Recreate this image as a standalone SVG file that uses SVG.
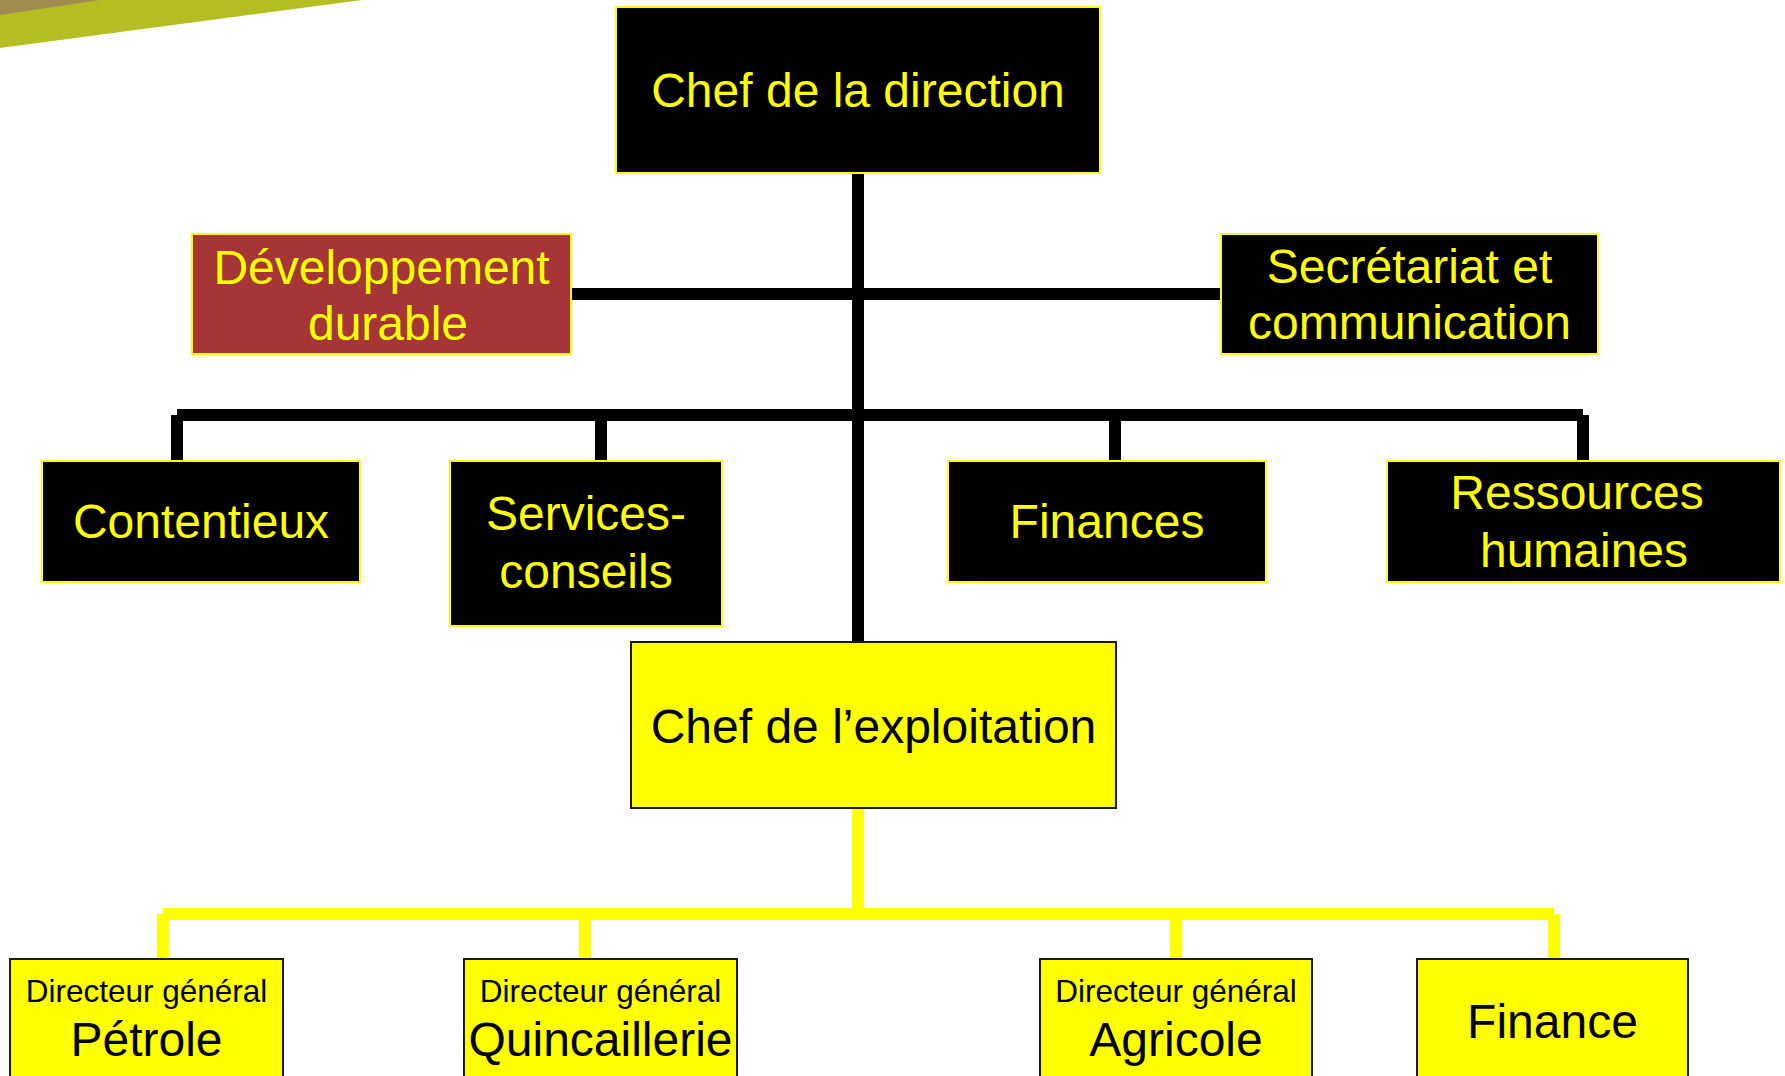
<svg xmlns="http://www.w3.org/2000/svg" width="1785" height="1076" viewBox="0 0 1785 1076">
<style>
  text { font-family: "Liberation Sans", Arial, sans-serif; text-anchor: middle; }
  .dark { fill: #000000; stroke: #FFFF00; stroke-width: 2; }
  .red { fill: #A53536; stroke: #FFFF00; stroke-width: 2; }
  .yel { fill: #FFFF00; stroke: #1a1a1a; stroke-width: 2; }
  .ty { fill: #FFFF00; font-size: 48px; }
  .tb { fill: #000000; font-size: 48px; }
  .ts { fill: #000000; font-size: 31.5px; }
  .cb { fill: none; stroke: #000000; stroke-width: 12; }
  .cy { fill: none; stroke: #FFFF00; stroke-width: 12; }
</style>
<rect x="0" y="0" width="1785" height="1076" fill="#FFFFFF"/>
<g id="decor">
  <polygon points="0,0 362,0 0,48" fill="#B4BE23"/>
  <polygon points="0,0 100,0 0,15" fill="#A08C4E"/>
</g>
<g id="connectors">
  <path class="cb" d="M858,173 V642"/>
  <path class="cb" d="M571,294 H1221"/>
  <path class="cb" d="M177,415 H1583"/>
  <path class="cb" d="M177,415 V461"/>
  <path class="cb" d="M1583,415 V461"/>
  <path class="cb" d="M601,415 V461"/>
  <path class="cb" d="M1115,415 V461"/>
  <path class="cy" d="M858,808 V914"/>
  <path class="cy" d="M163,914 H1554"/>
  <path class="cy" d="M163,914 V959"/>
  <path class="cy" d="M1554,914 V959"/>
  <path class="cy" d="M585,914 V959"/>
  <path class="cy" d="M1176,914 V959"/>
</g>
<g id="chef-direction">
  <rect class="dark" x="616" y="7" width="484" height="166"/>
  <text class="ty" x="858" y="107">Chef de la direction</text>
</g>
<g id="developpement-durable">
  <rect class="red" x="192" y="234" width="379" height="120"/>
  <text class="ty" x="381.5" y="284">Développement</text>
  <text class="ty" x="388" y="340">durable</text>
</g>
<g id="secretariat">
  <rect class="dark" x="1221" y="234" width="377" height="120"/>
  <text class="ty" x="1409.5" y="283">Secrétariat et</text>
  <text class="ty" x="1409.5" y="339">communication</text>
</g>
<g id="contentieux">
  <rect class="dark" x="42" y="461" width="318" height="121"/>
  <text class="ty" x="201" y="538">Contentieux</text>
</g>
<g id="services-conseils">
  <rect class="dark" x="450" y="461" width="272" height="165"/>
  <text class="ty" x="586" y="530">Services-</text>
  <text class="ty" x="586" y="588">conseils</text>
</g>
<g id="finances">
  <rect class="dark" x="948" y="461" width="318" height="121"/>
  <text class="ty" x="1107" y="538">Finances</text>
</g>
<g id="ressources-humaines">
  <rect class="dark" x="1387" y="461" width="393" height="121"/>
  <text class="ty" x="1577" y="509">Ressources</text>
  <text class="ty" x="1584" y="567">humaines</text>
</g>
<g id="chef-exploitation">
  <rect class="yel" x="631" y="642" width="485" height="166"/>
  <text class="tb" x="873.5" y="743">Chef de l’exploitation</text>
</g>
<g id="dg-petrole">
  <rect class="yel" x="10" y="959" width="273" height="140"/>
  <text class="ts" x="146.5" y="1002">Directeur général</text>
  <text class="tb" x="146.5" y="1056">Pétrole</text>
</g>
<g id="dg-quincaillerie">
  <rect class="yel" x="464" y="959" width="273" height="140"/>
  <text class="ts" x="600.5" y="1002">Directeur général</text>
  <text class="tb" x="600.5" y="1056">Quincaillerie</text>
</g>
<g id="dg-agricole">
  <rect class="yel" x="1040" y="959" width="272" height="140"/>
  <text class="ts" x="1176" y="1002">Directeur général</text>
  <text class="tb" x="1176" y="1056">Agricole</text>
</g>
<g id="finance">
  <rect class="yel" x="1417" y="959" width="271" height="140"/>
  <text class="tb" x="1552.5" y="1038">Finance</text>
</g>
</svg>
